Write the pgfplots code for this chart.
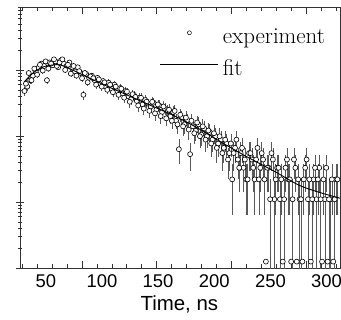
\documentclass[border=0pt]{standalone}
\usepackage{fontspec}
\usepackage{pgfplots}
\pgfplotsset{compat=1.18}
\usepackage{pgfplotstable}
\newfontfamily\arialf{Liberation Sans}

\pgfplotstableread{
x y ep em
31 480 73 73
33.5 560 78 78
36 700 88 88
38.5 820 95 95
41 950 102 102
43.5 1080 109 109
46 1250 117 117
48.5 1150 112 112
51 700 88 88
53.5 1300 120 120
56 1180 114 114
58.5 1350 122 122
61 1100 110 110
63.5 1400 124 124
66 1250 117 117
68.5 1150 112 112
71 1300 120 120
73.5 1050 107 107
76 950 102 102
78.5 1100 110 110
81 900 99 99
83.5 420 68 68
86 870 98 98
88.5 760 91 91
91 820 95 95
93.5 700 88 88
96 760 91 91
98.5 620 83 83
101 680 86 86
103.5 560 78 78
106 640 84 84
108.5 520 76 76
111 600 81 81
113.5 480 73 73
116 530 76 76
118.5 440 70 70
121 480 73 73
123.5 400 66 66
126 360 63 63
128.5 420 68 68
131 340 61 61
133.5 380 65 65
136 300 57 57
138.5 350 62 62
141 310 58 58
143.5 280 55 55
146 320 59 59
148.5 250 52 52
151 290 56 56
153.5 230 50 50
156 260 53 53
158.5 240 51 51
161 200 47 47
163.5 230 50 50
166 170 43 43
168.5 63 26 26
171 190 46 46
173.5 150 41 41
176 175 44 44
178.5 53 24 24
181 140 39 39
183.5 120 36 36
186 150 41 41
188.5 105 34 34
191 130 38 38
193.5 99 33 33
196 115 36 36
198.5 88 31 31
201 99 33 33
203.5 77 29 29
206 88 31 31
208.5 66 27 27
211 77 29 29
213.5 55 25 25
216 22 16 15.6
218.5 66 27 27
221 44 22 22
223.5 55 25 25
226 33 19 19
228.5 22 16 15.6
231 55 25 25
233.5 44 22 22
236 22 16 15.6
238.5 66 27 27
241 33 19 19
243.5 44 22 22
246 1.25 0 0
248.5 33 19 19
251 55 25 25
253.5 11 11 10.5
256 33 19 19
258.5 11 11 10.5
261 1.25 0 0
263.5 33 19 19
266 22 16 15.6
268.5 1.25 0 0
271 44 22 22
273.5 1.25 0 0
276 11 11 10.5
278.5 1.25 0 0
281 33 19 19
283.5 11 11 10.5
286 1.25 0 0
288.5 22 16 15.6
291 11 11 10.5
293.5 33 19 19
296 1.25 0 0
298.5 11 11 10.5
301 1.25 0 0
303.5 11 11 10.5
306 1.25 0 0
308.5 22 16 15.6
32.25 620 83 83
34.75 900 99 99
37.25 700 88 88
39.75 1050 107 107
42.25 850 97 97
44.75 1200 115 115
47.25 980 104 104
49.75 1350 122 122
52.25 1050 107 107
54.75 1250 117 117
57.25 1450 126 126
59.75 1150 112 112
62.25 1300 120 120
64.75 1450 126 126
67.25 1000 105 105
69.75 1200 115 115
72.25 880 98 98
74.75 1150 112 112
77.25 820 95 95
79.75 960 103 103
82.25 750 91 91
84.75 900 99 99
87.25 650 85 85
89.75 800 94 94
92.25 750 91 91
94.75 600 81 81
97.25 720 89 89
99.75 560 78 78
102.25 650 85 85
104.75 500 74 74
107.25 600 81 81
109.75 460 71 71
112.25 560 78 78
114.75 420 68 68
117.25 520 76 76
119.75 380 65 65
122.25 470 72 72
124.75 330 60 60
127.25 430 69 69
129.75 390 65 65
132.25 290 56 56
134.75 380 65 65
137.25 260 53 53
139.75 330 60 60
142.25 240 51 51
144.75 330 60 60
147.25 220 49 49
149.75 300 57 57
152.25 200 47 47
154.75 280 55 55
157.25 185 45 45
159.75 250 52 52
162.25 170 43 43
164.75 240 51 51
167.25 150 41 41
169.75 210 48 48
172.25 140 39 39
174.75 190 46 46
177.25 125 37 37
179.75 170 43 43
182.25 110 35 35
184.75 160 42 42
187.25 99 33 33
189.75 140 39 39
192.25 88 31 31
194.75 121 36 36
197.25 77 29 29
199.75 110 35 35
202.25 66 27 27
204.75 99 33 33
207.25 55 25 25
209.75 88 31 31
212.25 44 22 22
214.75 77 29 29
217.25 55 25 25
219.75 88 31 31
222.25 33 19 19
224.75 66 27 27
227.25 44 22 22
229.75 22 16 15.6
232.25 55 25 25
234.75 33 19 19
237.25 44 22 22
239.75 22 16 15.6
242.25 55 25 25
244.75 22 16 15.6
247.25 33 19 19
249.75 11 11 10.5
252.25 44 22 22
254.75 22 16 15.6
257.25 33 19 19
259.75 22 16 15.6
262.25 11 11 10.5
264.75 44 22 22
267.25 22 16 15.6
269.75 11 11 10.5
272.25 33 19 19
274.75 22 16 15.6
277.25 11 11 10.5
279.75 22 16 15.6
282.25 44 22 22
284.75 22 16 15.6
287.25 11 11 10.5
289.75 33 19 19
292.25 22 16 15.6
294.75 11 11 10.5
297.25 22 16 15.6
299.75 33 19 19
302.25 11 11 10.5
304.75 22 16 15.6
307.25 11 11 10.5
309.75 22 16 15.6
}\expdata

\pgfplotstableread{
x y
30.7 660
38.6 900
47.4 1110
56.1 1190
63.2 1190
73.7 1000
86.8 785
100 616
121.9 421
143.9 288
165.8 197
187.7 125
209.6 74.5
231.6 45.9
253.5 29.2
275.4 18.0
293 14.1
312 11.4
}\fitdata

\begin{document}
\begin{tikzpicture}
\begin{axis}[
  at={(0,0)}, anchor=south west,
  scale only axis, width=320bp, height=261bp,
  ymode=log, xmin=27, xmax=312, ymin=1, ymax=9000,
  clip mode=individual,
  axis line style={black!80, line width=0.8bp},
  tick style={black!80, line width=0.6bp},
  major tick length=7bp, minor tick length=4bp,
  xtick align=inside, ytick align=center,
  xtick pos=both, ytick pos=left,
  xtick={82.2,148.7,215.2,281.7}, xticklabels={},
  minor xtick={29,42.3,...,312},
  extra x ticks={50,100,150,200,250,300},
  extra x tick labels={50,100,150,200,250,300},
  extra x tick style={major tick length=0pt},
  yticklabels={},
  /pgf/number format/assume math mode=true,
  xticklabel style={font=\arialf\fontsize{18.5}{18.5}\selectfont, yshift=-3bp},
  xlabel={Time, ns},
  xlabel style={font=\arialf\fontsize{20.5}{20.5}\selectfont, at={(axis description cs:0.498,0)}, anchor=base, yshift=-42bp},
  legend cell align=left,
  legend style={draw=none, fill=none, at={(axis description cs:0.963,0.925)}, anchor=north east,
    font=\fontsize{23}{26}\selectfont, row sep=12bp, column sep=4bp,
    nodes={inner sep=0pt, text height=15bp, text depth=5bp}},
]
\addplot[only marks, mark=*, mark size=2.5bp,
  mark options={fill=white, draw=black, line width=0.6bp},
  error bars/.cd, y dir=both, y explicit, error mark=none,
  error bar style={line width=0.6bp, black!65},
  /pgfplots/legend image code/.code={%
    \path[draw=none, fill=none] (0bp,0bp) rectangle (58bp,1bp);
    \draw[black, fill=white, line width=0.5bp] (29bp,6bp) circle (2bp);}]
  table[x=x, y=y, y error plus=ep, y error minus=em]{\expdata};
\addlegendentry{experiment}
\addplot[black, line width=0.9bp, smooth, tension=0.5, mark=none,
  legend image code/.code={%
    \draw[black, line width=0.9bp] (0bp,6bp) -- (58bp,6bp);}]
  table[x=x, y=y]{\fitdata};
\addlegendentry{fit}
\end{axis}
\pgfresetboundingbox
\path (-20bp,-52bp) rectangle (321bp,268bp);
\end{tikzpicture}
\end{document}
